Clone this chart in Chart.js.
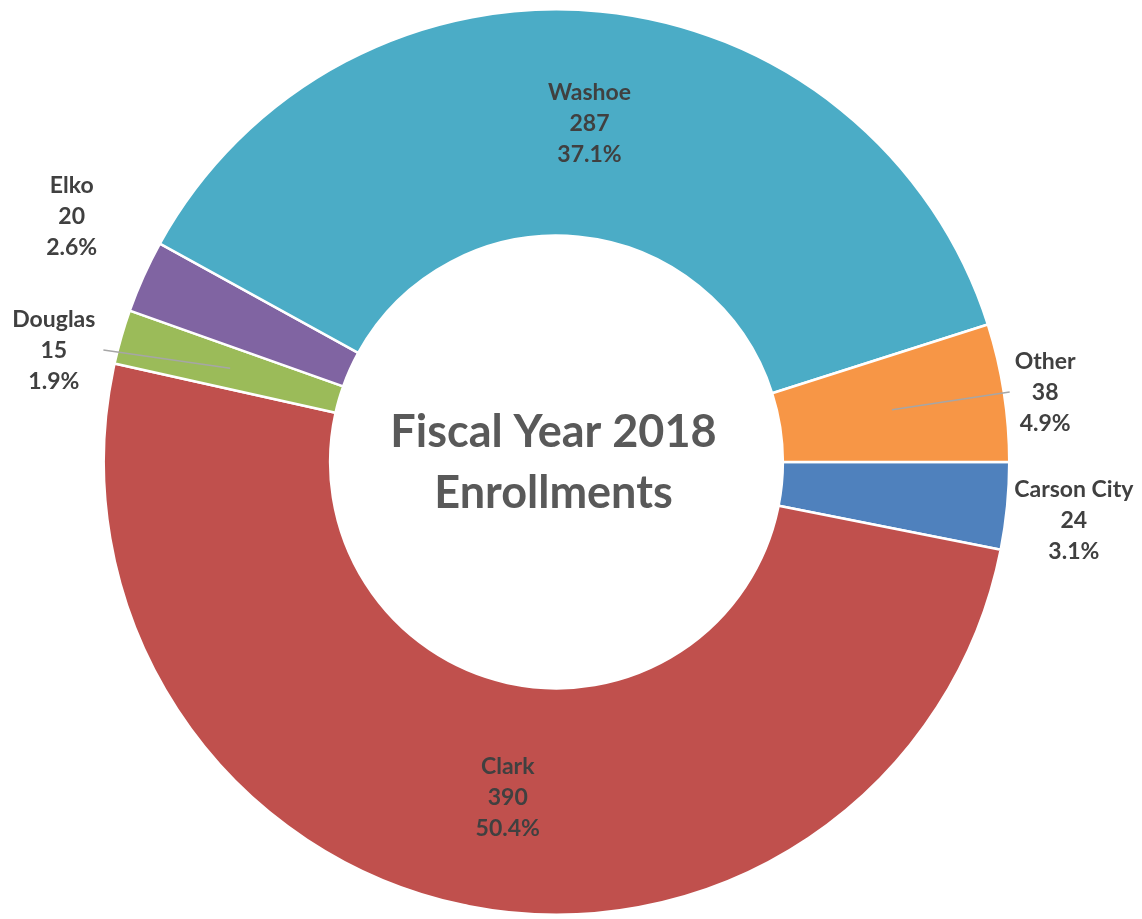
<!DOCTYPE html>
<html><head><meta charset="utf-8">
<script src="https://cdn.jsdelivr.net/npm/chart.js@4.4.1/dist/chart.umd.min.js"></script>
<style>html,body{margin:0;padding:0;background:#fff;overflow:hidden;}canvas{display:block;}</style>
</head><body><canvas id="c" width="1142" height="919"></canvas>
<script>
const categories = ['Carson City', 'Clark', 'Douglas', 'Elko', 'Washoe', 'Other'];
const enrollments = [24, 390, 15, 20, 287, 38];
const centerTitle = ['Fiscal Year 2018', 'Enrollments'];
const sliceColors = ['#4F81BD', '#C0504D', '#9BBB59', '#8064A2', '#4BACC6', '#F79646'];
// label placement style: radius factor of outer radius (null = inside, mid-ring), angle shift in degrees, leader line
const labelPlacement = [
  { r: 1.15, da: 0.9, leader: false },
  { r: null, da: -3.6, leader: false },
  { r: 1.137, da: -3.6, leader: true },
  { r: 1.2, da: 2.65, leader: false },
  { r: null, da: 0, leader: false },
  { r: 1.09, da: 0.8, leader: true }
];

const total = enrollments.reduce((a, b) => a + b, 0);
const LABEL_FONT = 'bold 23px Lato';
const LINE_H = 31;

const labelPlugin = {
  id: 'sliceLabels',
  afterDatasetsDraw(chart) {
    const ctx = chart.ctx;
    const meta = chart.getDatasetMeta(0);
    ctx.save();
    ctx.font = LABEL_FONT;
    ctx.textAlign = 'center';
    ctx.textBaseline = 'middle';
    meta.data.forEach((arc, i) => {
      const p = arc.getProps(['x', 'y', 'startAngle', 'endAngle', 'innerRadius', 'outerRadius'], true);
      const mid = (p.startAngle + p.endAngle) / 2;
      const midR = (p.innerRadius + p.outerRadius) / 2;
      const pl = labelPlacement[i];
      const a = mid + pl.da * Math.PI / 180;
      const rr = pl.r === null ? midR : p.outerRadius * pl.r;
      const px = p.x + Math.cos(a) * rr;
      const py = p.y + Math.sin(a) * rr;
      const v = enrollments[i];
      const lines = [categories[i], String(v), (v / total * 100).toFixed(1) + '%'];
      const w = Math.max(...lines.map(t => ctx.measureText(t).width));
      if (pl.leader) {
        const sx = p.x + Math.cos(mid) * midR;
        const sy = p.y + Math.sin(mid) * midR;
        const ex = px > p.x ? px - w / 2 - 5 : px + w / 2 + 8;
        const ey = py - 1;
        ctx.strokeStyle = '#A6A6A6';
        ctx.lineWidth = 1.5;
        ctx.beginPath();
        ctx.moveTo(sx, sy);
        ctx.lineTo(ex, ey);
        ctx.stroke();
      }
      ctx.fillStyle = '#404040';
      lines.forEach((t, k) => ctx.fillText(t, px, py + (k - 1) * LINE_H));
    });
    // center title
    const a0 = meta.data[0];
    ctx.fillStyle = '#595959';
    ctx.font = 'bold 45px Lato';
    ctx.fillText(centerTitle[0], a0.x - 3, a0.y - 30);
    ctx.fillText(centerTitle[1], a0.x - 3, a0.y + 31);
    ctx.restore();
  }
};

new Chart(document.getElementById('c'), {
  type: 'doughnut',
  data: {
    labels: categories,
    datasets: [{
      data: enrollments,
      backgroundColor: sliceColors,
      borderColor: '#FFFFFF',
      borderWidth: 2.5
    }]
  },
  options: {
    responsive: false,
    devicePixelRatio: 1,
    animation: false,
    rotation: 90,
    cutout: '50%',
    layout: { padding: { left: 101, right: 130, top: 8, bottom: 3 } },
    plugins: { legend: { display: false }, tooltip: { enabled: false } }
  },
  plugins: [labelPlugin]
});
</script>
</body></html>
